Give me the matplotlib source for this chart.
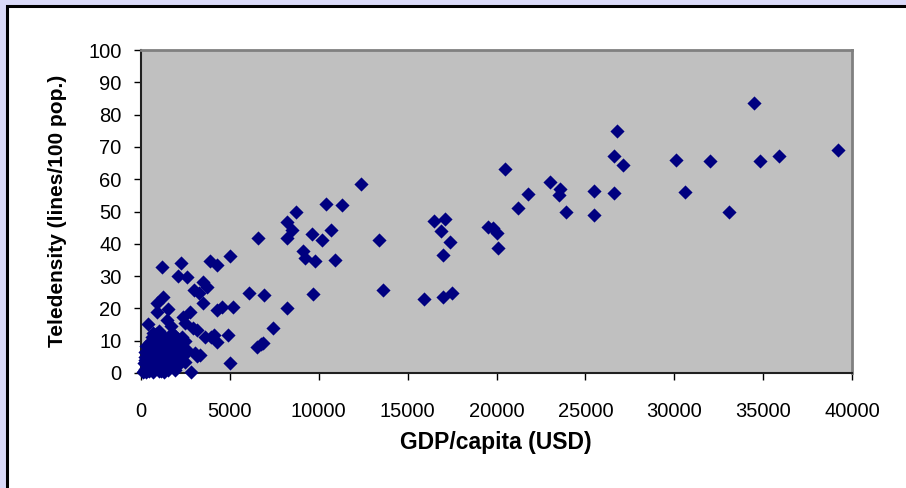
import matplotlib
matplotlib.use("Agg")
import matplotlib.pyplot as plt
from matplotlib.patches import Rectangle

#------------------------------------------------------------------------
# data: GDP per capita (USD) vs teledensity (lines / 100 pop.)
#------------------------------------------------------------------------

# high income countries
gdp_high = [39200, 34500, 30100, 32000, 34800, 35900, 30600, 33100, 26800,
            26600, 27100, 20500, 23000, 23600, 23500, 25500, 26600, 21800,
            21200, 23900, 25500, 19500, 19800, 20000, 20100]
tel_high = [69.0, 83.6, 66.0, 65.6, 65.6, 67.2, 56.0, 49.8, 75.0,
            67.2, 64.4, 63.2, 59.1, 57.0, 55.1, 56.3, 55.7, 55.4,
            51.1, 49.8, 48.9, 45.2, 44.9, 43.3, 38.7]

# middle range
gdp_mid = [17100, 16900, 17400, 17000, 17500, 17000, 16500, 13600, 15900,
           12400, 10400, 11300, 8700, 8200, 8500, 8200, 9600, 10700, 10200,
           13400, 6600, 9100, 9200, 9800, 10900, 6900, 9700, 8200, 7400,
           6850, 6500, 6750, 6100]
tel_mid = [47.7, 44.0, 40.6, 36.4, 24.8, 23.5, 47.1, 25.7, 22.9,
           58.5, 52.3, 52.0, 49.8, 46.7, 44.3, 41.8, 43.0, 44.3, 41.2,
           41.2, 41.8, 37.8, 35.6, 34.7, 35.0, 24.1, 24.5, 20.1, 13.9,
           9.3, 8.0, 9.0, 24.8]

# low income countries
gdp_low = [2250, 1200, 2100, 2600, 3900, 4300, 5000, 3500, 3700, 3000, 3250,
           3500, 1240, 900, 4250, 4550, 5150, 1500, 900, 1450, 2750, 2350,
           2475, 400, 3150, 4100, 4900, 4300, 3950, 3150, 3040, 2800, 5000,
           3600, 3320, 1700, 2900]
tel_low = [34.1, 32.8, 30.0, 29.7, 34.7, 33.4, 36.2, 28.2, 26.6, 25.7, 24.8,
           21.7, 23.5, 21.7, 19.5, 20.4, 20.4, 19.8, 18.9, 16.4, 18.9, 17.3,
           15.5, 15.2, 13.3, 11.8, 11.8, 9.6, 11.3, 5.3, 6.2, 0.3, 3.1,
           11.0, 5.6, 14.5, 14.0]

# dense cluster near origin
gdp_poor = [100, 150, 200, 250, 300, 350, 400, 420, 450, 480, 500, 520, 560,
            600, 620, 650, 700, 720, 750, 780, 800, 850, 880, 900, 950, 980,
            1000, 1050, 1100, 1150, 1200, 1250, 1300, 1350, 1400, 1450, 1500,
            1550, 1600, 1650, 1700, 1750, 1800, 1850, 1900, 1950, 2000, 2100,
            2200, 2300, 2400, 2500, 2600, 300, 600, 1000, 1300, 250, 700, 1450,
            200, 550, 1150, 1800,
            150, 200, 300, 400, 500, 600, 700, 800, 850, 1000, 1100, 1200,
            1300, 1600, 1700, 1900, 2100, 2200, 1600, 1900, 1000, 700, 2000,
            2300, 2500]
tel_poor = [0.3, 0.5, 0.8, 1.2, 0.4, 2.0, 1.0, 3.5, 0.6, 2.5, 5.0, 1.5, 7.5,
            3.0, 0.8, 4.5, 2.0, 6.0, 9.0, 1.2, 3.8, 5.5, 8.0, 2.5, 10.5, 4.0,
            6.8, 1.5, 9.0, 3.2, 5.5, 11.5, 7.5, 2.2, 4.8, 8.8, 0.8,
            6.2, 10.0, 3.5, 5.0, 12.5, 7.0, 1.8, 4.2, 9.5, 6.0, 8.0,
            3.0, 11.0, 5.5, 9.8, 7.2, 8.5, 11.0, 13.0, 0.2, 4.0, 12.5, 2.0,
            6.5, 9.5, 0.5, 10.8,
            3.0, 5.0, 6.5, 8.0, 9.5, 6.0, 8.5, 10.0, 12.0, 11.0, 12.0, 8.0,
            10.0, 7.5, 9.0, 11.5, 10.5, 6.5, 1.8, 0.8, 0.5, 0.3, 2.5,
            4.0, 3.5]

gdp = gdp_high + gdp_mid + gdp_low + gdp_poor
tel = tel_high + tel_mid + tel_low + tel_poor

xticks = list(range(0, 40001, 5000))
yticks = list(range(0, 101, 10))

#------------------------------------------------------------------------
# figure
#------------------------------------------------------------------------
plt.rcParams['font.family'] = ['Liberation Sans', 'DejaVu Sans']

W, H = 906, 488
fig = plt.figure(figsize=(W / 100, H / 100), dpi=100, facecolor='#DADAF8')

# white chart area with black frame (cut off on the right/bottom)
frame = Rectangle((6.5 / W, -0.05), 1.1, 1 - 6.5 / H + 0.05, transform=fig.transFigure,
                  facecolor='white', edgecolor='black', linewidth=2.2, zorder=-1)
fig.patches.append(frame)

ax = fig.add_axes([141 / W, 1 - 373 / H, (852 - 141) / W, (373 - 50) / H])
ax.set_facecolor('#C0C0C0')

ax.scatter(gdp, tel, marker='D', s=52, color='#000080', linewidths=0, zorder=3,
           clip_on=False)

ax.set_xlim(0, 40000)
ax.set_ylim(0, 100)
ax.set_xticks(xticks)
ax.set_yticks(yticks)
ax.tick_params(axis='both', direction='out', length=5, width=1, colors='black',
               labelsize=14.5)
ax.tick_params(axis='x', pad=16)
ax.tick_params(axis='y', pad=9)

for side in ['left', 'bottom']:
    ax.spines[side].set_color('#202020')
    ax.spines[side].set_linewidth(1.5)
for side in ['top', 'right']:
    ax.spines[side].set_color('#808080')
    ax.spines[side].set_linewidth(2)

fig.text(496 / W, 1 - 443 / H, 'GDP/capita (USD)', ha='center', va='center',
         fontsize=16.5, fontweight='bold')
fig.text(58 / W, 1 - 211 / H, 'Teledensity (lines/100 pop.)', ha='center', va='center',
         rotation=90, fontsize=15, fontweight='bold')

fig.savefig('out.png', dpi=100, facecolor=fig.get_facecolor())
